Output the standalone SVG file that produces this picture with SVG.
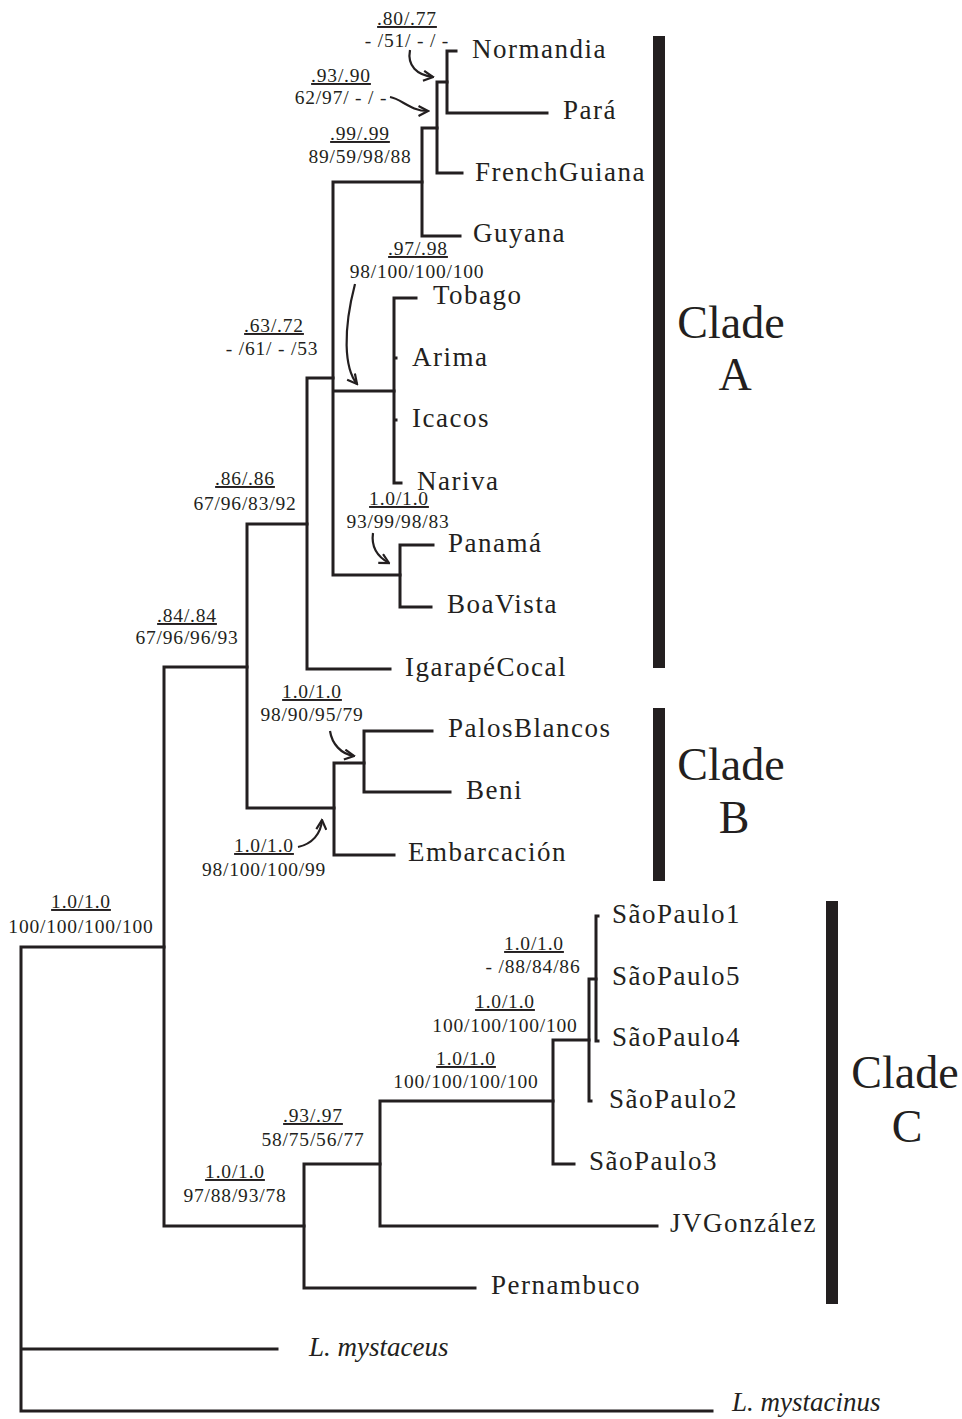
<svg xmlns="http://www.w3.org/2000/svg" width="962" height="1419" viewBox="0 0 962 1419">
<style>
.br{stroke:#231f20;stroke-width:3;fill:none;stroke-linecap:square}
.ar{stroke:#231f20;stroke-width:2.2;fill:none;marker-end:url(#ah)}
text{font-family:"Liberation Serif","Times New Roman",serif;fill:#231f20}
.tx{font-size:27px;letter-spacing:1.5px}
.it{font-size:27px;font-style:italic}
.sp{font-size:19.5px;letter-spacing:0.8px;text-anchor:middle}
.u{text-decoration:underline}
.cl{font-size:46px;text-anchor:middle}
.bar{fill:#231f20}
</style>
<defs>
<marker id="ah" viewBox="0 0 12 12" refX="10.5" refY="6" markerWidth="12" markerHeight="12" markerUnits="userSpaceOnUse" orient="auto">
<path d="M1,1 L10.5,6 L1,11" fill="none" stroke="#231f20" stroke-width="2.2"/>
</marker>
</defs>
<rect width="962" height="1419" fill="#fff"/>

<g id="connectors">
<path class="br" d="M21,947 V1411 M21,947 H164 M21,1349 H277 M21,1411 H712"/>
<path class="br" d="M164,667 V1226 M164,667 H247 M164,1226 H304"/>
<path class="br" d="M247,524 V808 M247,524 H307 M247,808 H334"/>
<path class="br" d="M307,378 V669 M307,378 H333 M307,669 H390"/>
<path class="br" d="M333,182 V575 M333,182 H422 M333,391 H394 M333,575 H400"/>
<path class="br" d="M422,128 V236 M422,128 H437 M422,236 H460"/>
<path class="br" d="M437,82 V173 M437,82 H447 M437,173 H462"/>
<path class="br" d="M447,51 V113 M447,51 H456 M447,113 H547"/>
<path class="br" d="M394,298 V483 M394,298 H416 M394,358 H396 M394,420 H396 M394,483 H401"/>
<path class="br" d="M400,545 V607 M400,545 H433 M400,607 H431"/>
<path class="br" d="M334,763 V855 M334,763 H364 M334,855 H394"/>
<path class="br" d="M364,731 V792 M364,731 H432 M364,792 H450"/>
<path class="br" d="M304,1164 V1288 M304,1164 H380 M304,1288 H475"/>
<path class="br" d="M380,1101 V1226 M380,1101 H553 M380,1226 H657"/>
<path class="br" d="M553,1040 V1164 M553,1040 H589 M553,1164 H574"/>
<path class="br" d="M589,979 V1101 M589,979 H596 M589,1101 H591"/>
<path class="br" d="M596,916 V1041 M596,916 H598 M596,1041 H598"/>
<path class="ar" d="M410,50 C407,66 417,75 433,77"/>
<path class="ar" d="M390,97 C402,99 410,111 428,111"/>
<path class="ar" d="M355,284 C343,330 344,368 357,384"/>
<path class="ar" d="M373,533 C371,547 378,557 389,563"/>
<path class="ar" d="M330,731 C332,744 341,754 354,756"/>
<path class="ar" d="M298,847 C312,844 321,834 322,820"/>
</g>

<g id="taxa">
<g id="t-normandia"><text class="tx" x="472" y="58">Normandia</text></g>
<g id="t-para"><text class="tx" x="563" y="119">Pará</text></g>
<g id="t-frenchguiana"><text class="tx" x="475" y="181">FrenchGuiana</text></g>
<g id="t-guyana"><text class="tx" x="473" y="242">Guyana</text></g>
<g id="t-tobago"><text class="tx" x="433" y="304">Tobago</text></g>
<g id="t-arima"><text class="tx" x="412" y="366">Arima</text></g>
<g id="t-icacos"><text class="tx" x="412" y="427">Icacos</text></g>
<g id="t-nariva"><text class="tx" x="417" y="490">Nariva</text></g>
<g id="t-panama"><text class="tx" x="448" y="552">Panamá</text></g>
<g id="t-boavista"><text class="tx" x="447" y="613">BoaVista</text></g>
<g id="t-igarapecocal"><text class="tx" x="405" y="676">IgarapéCocal</text></g>
<g id="t-palosblancos"><text class="tx" x="448" y="737">PalosBlancos</text></g>
<g id="t-beni"><text class="tx" x="466" y="799">Beni</text></g>
<g id="t-embarcacion"><text class="tx" x="408" y="861">Embarcación</text></g>
<g id="t-saopaulo1"><text class="tx" x="612" y="923">SãoPaulo1</text></g>
<g id="t-saopaulo5"><text class="tx" x="612" y="985">SãoPaulo5</text></g>
<g id="t-saopaulo4"><text class="tx" x="612" y="1046">SãoPaulo4</text></g>
<g id="t-saopaulo2"><text class="tx" x="609" y="1108">SãoPaulo2</text></g>
<g id="t-saopaulo3"><text class="tx" x="589" y="1170">SãoPaulo3</text></g>
<g id="t-jvgonzalez"><text class="tx" x="670" y="1232">JVGonzález</text></g>
<g id="t-pernambuco"><text class="tx" x="491" y="1294">Pernambuco</text></g>
<g id="t-lmystaceus"><text class="it" x="309" y="1356">L. mystaceus</text></g>
<g id="t-lmystacinus"><text class="it" x="732" y="1411">L. mystacinus</text></g>
</g>

<g id="support">
<g id="s1"><text class="sp u" x="407" y="25">.80/.77</text><text class="sp" x="407" y="47">- /51/ - / -</text></g>
<g id="s2"><text class="sp u" x="341" y="82">.93/.90</text><text class="sp" x="341" y="104">62/97/ - / -</text></g>
<g id="s3"><text class="sp u" x="360" y="140">.99/.99</text><text class="sp" x="360" y="163">89/59/98/88</text></g>
<g id="s4"><text class="sp u" x="418" y="255">.97/.98</text><text class="sp" x="417" y="278">98/100/100/100</text></g>
<g id="s5"><text class="sp u" x="274" y="332">.63/.72</text><text class="sp" x="272" y="355">- /61/ - /53</text></g>
<g id="s6"><text class="sp u" x="245" y="485">.86/.86</text><text class="sp" x="245" y="510">67/96/83/92</text></g>
<g id="s7"><text class="sp u" x="399" y="505">1.0/1.0</text><text class="sp" x="398" y="528">93/99/98/83</text></g>
<g id="s8"><text class="sp u" x="187" y="622">.84/.84</text><text class="sp" x="187" y="644">67/96/96/93</text></g>
<g id="s9"><text class="sp u" x="312" y="698">1.0/1.0</text><text class="sp" x="312" y="721">98/90/95/79</text></g>
<g id="s10"><text class="sp u" x="264" y="852">1.0/1.0</text><text class="sp" x="264" y="876">98/100/100/99</text></g>
<g id="s11"><text class="sp u" x="81" y="908">1.0/1.0</text><text class="sp" x="81" y="933">100/100/100/100</text></g>
<g id="s12"><text class="sp u" x="534" y="950">1.0/1.0</text><text class="sp" x="533" y="973">- /88/84/86</text></g>
<g id="s13"><text class="sp u" x="505" y="1008">1.0/1.0</text><text class="sp" x="505" y="1032">100/100/100/100</text></g>
<g id="s14"><text class="sp u" x="466" y="1065">1.0/1.0</text><text class="sp" x="466" y="1088">100/100/100/100</text></g>
<g id="s15"><text class="sp u" x="313" y="1122">.93/.97</text><text class="sp" x="313" y="1146">58/75/56/77</text></g>
<g id="s16"><text class="sp u" x="235" y="1178">1.0/1.0</text><text class="sp" x="235" y="1202">97/88/93/78</text></g>
</g>

<g id="clade-a"><rect class="bar" x="653" y="36" width="12" height="632"/><text class="cl" x="731" y="338">Clade</text><text class="cl" x="735" y="390">A</text></g>
<g id="clade-b"><rect class="bar" x="653" y="708" width="12" height="173"/><text class="cl" x="731" y="780">Clade</text><text class="cl" x="734" y="833">B</text></g>
<g id="clade-c"><rect class="bar" x="826" y="901" width="12" height="403"/><text class="cl" x="905" y="1088">Clade</text><text class="cl" x="907" y="1142">C</text></g>
</svg>
